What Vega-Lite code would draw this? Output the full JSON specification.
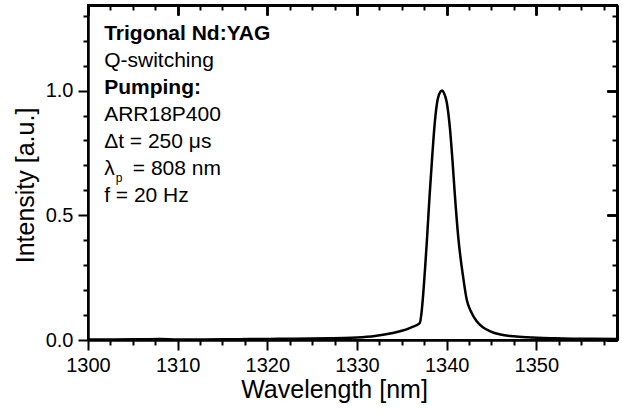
{
  "$schema": "https://vega.github.io/schema/vega-lite/v6.json",
  "width": 529,
  "height": 335,
  "autosize": {"type": "none"},
  "padding": {"left": 88, "top": 5, "right": 5, "bottom": 72},
  "background": "white",
  "config": {
    "view": {"stroke": "black", "strokeWidth": 2},
    "font": "Liberation Sans",
    "axis": {"grid": false, "tickColor": "black", "tickWidth": 2, "domainColor": "black", "domainWidth": 2, "labelColor": "black", "titleColor": "black", "labelFont": "Liberation Sans", "titleFont": "Liberation Sans", "titleFontWeight": "normal", "labelFlush": false, "labelOverlap": false}
  },
  "data": {"values": [
      {"wavelength": 1300, "intensity": 0.002},
      {"wavelength": 1303, "intensity": 0.002},
      {"wavelength": 1306, "intensity": 0.003},
      {"wavelength": 1308, "intensity": 0.004},
      {"wavelength": 1310, "intensity": 0.002},
      {"wavelength": 1313, "intensity": 0.002},
      {"wavelength": 1316, "intensity": 0.003},
      {"wavelength": 1318, "intensity": 0.004},
      {"wavelength": 1320, "intensity": 0.004},
      {"wavelength": 1322, "intensity": 0.005},
      {"wavelength": 1325, "intensity": 0.006},
      {"wavelength": 1327, "intensity": 0.007},
      {"wavelength": 1328.5, "intensity": 0.008},
      {"wavelength": 1330, "intensity": 0.010},
      {"wavelength": 1332, "intensity": 0.016},
      {"wavelength": 1334, "intensity": 0.028},
      {"wavelength": 1335, "intensity": 0.037},
      {"wavelength": 1336, "intensity": 0.050},
      {"wavelength": 1337, "intensity": 0.068},
      {"wavelength": 1337.2, "intensity": 0.11},
      {"wavelength": 1337.4, "intensity": 0.19},
      {"wavelength": 1337.6, "intensity": 0.29},
      {"wavelength": 1337.8, "intensity": 0.40},
      {"wavelength": 1338.1, "intensity": 0.58},
      {"wavelength": 1338.4, "intensity": 0.74},
      {"wavelength": 1338.7, "intensity": 0.88},
      {"wavelength": 1339.0, "intensity": 0.965},
      {"wavelength": 1339.3, "intensity": 0.995},
      {"wavelength": 1339.5, "intensity": 1.0},
      {"wavelength": 1339.7, "intensity": 0.99},
      {"wavelength": 1340.0, "intensity": 0.955},
      {"wavelength": 1340.35, "intensity": 0.855},
      {"wavelength": 1340.65, "intensity": 0.72},
      {"wavelength": 1340.9, "intensity": 0.59},
      {"wavelength": 1341.3, "intensity": 0.41},
      {"wavelength": 1341.85, "intensity": 0.25},
      {"wavelength": 1342.25, "intensity": 0.16},
      {"wavelength": 1342.7, "intensity": 0.115},
      {"wavelength": 1343.35, "intensity": 0.075},
      {"wavelength": 1344, "intensity": 0.052},
      {"wavelength": 1344.8, "intensity": 0.036},
      {"wavelength": 1346, "intensity": 0.022},
      {"wavelength": 1347.5, "intensity": 0.015},
      {"wavelength": 1349, "intensity": 0.011},
      {"wavelength": 1352, "intensity": 0.007},
      {"wavelength": 1355, "intensity": 0.005},
      {"wavelength": 1359, "intensity": 0.004}
  ]},
  "layer": [
    {
      "mark": {"type": "line", "color": "black", "strokeWidth": 2.5, "interpolate": "monotone"},
      "encoding": {
        "x": {
          "field": "wavelength", "type": "quantitative",
          "scale": {"domain": [1300, 1359], "nice": false, "zero": false},
          "axis": {
            "orient": "bottom",
            "values": [1300, 1310, 1320, 1330, 1340, 1350],
            "format": "d", "tickSize": 10,
            "labelFontSize": 20, "labelPadding": 5,
            "title": "Wavelength [nm]", "titleFontSize": 25, "titleX": 246, "titlePadding": 2
          }
        },
        "y": {
          "field": "intensity", "type": "quantitative",
          "scale": {"domain": [0, 1.343], "nice": false, "zero": false},
          "axis": {
            "orient": "left",
            "values": [0, 0.5, 1.0],
            "format": ".1f", "tickSize": 10,
            "labelFontSize": 20, "labelPadding": 5,
            "title": "Intensity [a.u.]", "titleFontSize": 25, "titleY": 180, "titlePadding": 7
          }
        }
      }
    },
    {
      "mark": {"type": "line", "opacity": 0},
      "encoding": {
        "x": {
          "field": "wavelength", "type": "quantitative",
          "axis": {
            "orient": "bottom",
            "values": [1302.5, 1305, 1307.5, 1312.5, 1315, 1317.5, 1322.5, 1325, 1327.5, 1332.5, 1335, 1337.5, 1342.5, 1345, 1347.5, 1352.5, 1355, 1357.5],
            "labelExpr": "' '", "labelFontSize": 4, "title": null, "tickSize": 5
          }
        },
        "y": {
          "field": "intensity", "type": "quantitative",
          "axis": {
            "orient": "left",
            "values": [0.1, 0.2, 0.3, 0.4, 0.6, 0.7, 0.8, 0.9, 1.1, 1.2, 1.3],
            "labelExpr": "' '", "labelFontSize": 4, "title": null, "tickSize": 5
          }
        }
      }
    },
    {
      "mark": {"type": "line", "opacity": 0},
      "encoding": {
        "x": {
          "field": "wavelength", "type": "quantitative",
          "axis": {
            "orient": "top",
            "values": [1300, 1310, 1320, 1330, 1340, 1350],
            "labelExpr": "' '", "labelFontSize": 4, "title": null, "tickSize": -10
          }
        },
        "y": {
          "field": "intensity", "type": "quantitative",
          "axis": {
            "orient": "right",
            "values": [0, 0.5, 1.0],
            "labelExpr": "' '", "labelFontSize": 4, "title": null, "tickSize": -10
          }
        }
      }
    },
    {
      "mark": {"type": "line", "opacity": 0},
      "encoding": {
        "x": {
          "field": "wavelength", "type": "quantitative",
          "axis": {
            "orient": "top",
            "values": [1302.5, 1305, 1307.5, 1312.5, 1315, 1317.5, 1322.5, 1325, 1327.5, 1332.5, 1335, 1337.5, 1342.5, 1345, 1347.5, 1352.5, 1355, 1357.5],
            "labelExpr": "' '", "labelFontSize": 4, "title": null, "tickSize": -5
          }
        },
        "y": {
          "field": "intensity", "type": "quantitative",
          "axis": {
            "orient": "right",
            "values": [0.1, 0.2, 0.3, 0.4, 0.6, 0.7, 0.8, 0.9, 1.1, 1.2, 1.3],
            "labelExpr": "' '", "labelFontSize": 4, "title": null, "tickSize": -5
          }
        }
      }
    },
    {
      "data": {"values": [
        {"x": 1301.8, "y": 1.2009, "label": "Trigonal Nd:YAG"},
        {"x": 1301.8, "y": 0.9844, "label": "Pumping:"}
      ]},
      "mark": {"type": "text", "align": "left", "baseline": "alphabetic", "fontSize": 21, "fontWeight": "bold", "font": "Liberation Sans", "color": "black"},
      "encoding": {
        "x": {"field": "x", "type": "quantitative", "axis": {"orient": "top", "values": [1300, 1310, 1320, 1330, 1340, 1350], "labelExpr": "' '", "labelFontSize": 4, "title": null, "tickSize": -10}},
        "y": {"field": "y", "type": "quantitative", "axis": {"orient": "right", "values": [0, 0.5, 1.0], "labelExpr": "' '", "labelFontSize": 4, "title": null, "tickSize": -10}},
        "text": {"field": "label"}
      }
    },
    {
      "data": {"values": [
        {"x": 1301.8, "y": 1.0926, "label": "Q-switching"},
        {"x": 1301.8, "y": 0.8761, "label": "ARR18P400"},
        {"x": 1301.8, "y": 0.7678, "label": "Δt = 250 μs"},
        {"x": 1301.8, "y": 0.6596, "label": "λ"},
        {"x": 1305.0, "y": 0.6596, "label": "= 808 nm"},
        {"x": 1301.8, "y": 0.5513, "label": "f = 20 Hz"}
      ]},
      "mark": {"type": "text", "align": "left", "baseline": "alphabetic", "fontSize": 21, "font": "Liberation Sans", "color": "black"},
      "encoding": {
        "x": {"field": "x", "type": "quantitative", "axis": {"orient": "top", "values": [1300, 1310, 1320, 1330, 1340, 1350], "labelExpr": "' '", "labelFontSize": 4, "title": null, "tickSize": -10}},
        "y": {"field": "y", "type": "quantitative", "axis": {"orient": "right", "values": [0, 0.5, 1.0], "labelExpr": "' '", "labelFontSize": 4, "title": null, "tickSize": -10}},
        "text": {"field": "label"}
      }
    },
    {
      "data": {"values": [
        {"x": 1303.1, "y": 0.6335, "label": "p"}
      ]},
      "mark": {"type": "text", "align": "left", "baseline": "alphabetic", "fontSize": 12, "font": "Liberation Sans", "color": "black"},
      "encoding": {
        "x": {"field": "x", "type": "quantitative", "axis": {"orient": "top", "values": [1300, 1310, 1320, 1330, 1340, 1350], "labelExpr": "' '", "labelFontSize": 4, "title": null, "tickSize": -10}},
        "y": {"field": "y", "type": "quantitative", "axis": {"orient": "right", "values": [0, 0.5, 1.0], "labelExpr": "' '", "labelFontSize": 4, "title": null, "tickSize": -10}},
        "text": {"field": "label"}
      }
    }
  ],
  "resolve": {"axis": {"x": "independent", "y": "independent"}}
}
